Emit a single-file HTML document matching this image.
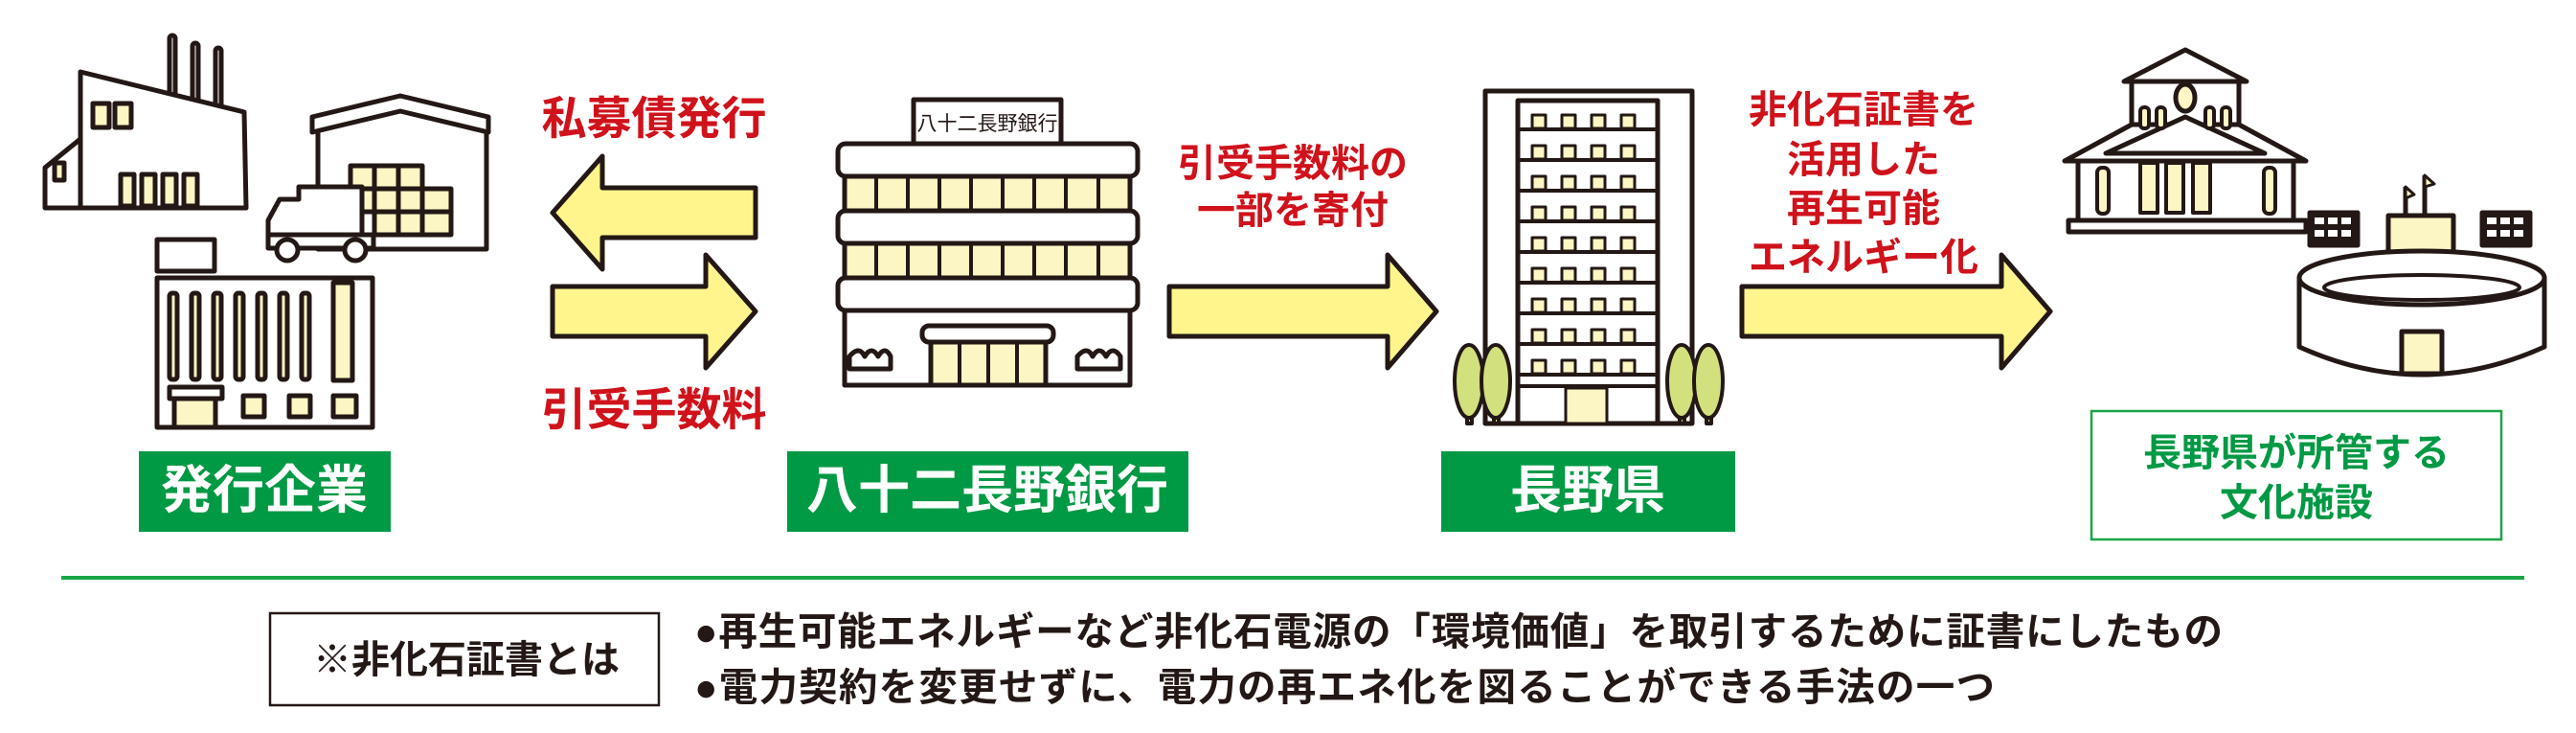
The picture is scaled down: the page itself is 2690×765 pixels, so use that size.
<!DOCTYPE html>
<html><head><meta charset="utf-8"><style>
html,body{margin:0;padding:0;background:#fff}
svg{display:block}
text{font-family:"Liberation Sans","Noto Sans CJK JP",sans-serif;font-weight:bold}
</style></head><body>
<svg width="2690" height="765" viewBox="0 0 2690 765" xmlns="http://www.w3.org/2000/svg">
<g stroke="#231815" stroke-width="5" stroke-linejoin="round" fill="#fff">
<!-- factory -->
<rect x="177" y="37" width="6" height="70" rx="3"/>
<rect x="201" y="45" width="6" height="65" rx="3"/>
<rect x="225" y="50" width="6" height="65" rx="3"/>
<path d="M84 75 L255 117 L257 217 L84 217 Z"/>
<path d="M84 145 L47 175 L47 217 L84 217 Z"/>
<rect x="57" y="170" width="10" height="18" fill="#fbf6c4"/>
<rect x="97" y="108" width="17" height="25" fill="#fbf6c4"/><rect x="120" y="108" width="17" height="25" fill="#fbf6c4"/>
<rect x="126" y="182" width="14" height="33" fill="#fbf6c4"/><rect x="148" y="182" width="14" height="33" fill="#fbf6c4"/><rect x="170" y="182" width="14" height="33" fill="#fbf6c4"/><rect x="192" y="182" width="14" height="33" fill="#fbf6c4"/>
<!-- warehouse -->
<path d="M332 130 L418 104 L508 130 L508 260 L332 260 Z"/>
<path d="M326 122 L418 100 L510 122 L510 138 L418 116 L326 138 Z"/>
<g fill="#fbf6c4"><rect x="366" y="173" width="25" height="24"/><rect x="391" y="173" width="25" height="24"/><rect x="416" y="173" width="25" height="24"/>
<rect x="366" y="197" width="25" height="24"/><rect x="391" y="197" width="25" height="24"/><rect x="416" y="197" width="25" height="24"/><rect x="441" y="197" width="30" height="24"/>
<rect x="391" y="221" width="25" height="24"/><rect x="416" y="221" width="25" height="24"/><rect x="441" y="221" width="30" height="24"/></g>
<!-- truck -->
<path d="M312 195 L378 195 L378 258 L280 258 L280 230 L292 208 L312 208 Z"/>
<rect x="280" y="245" width="110" height="14"/>
<circle cx="300" cy="261" r="11"/><circle cx="371" cy="261" r="11"/>
<!-- office -->
<rect x="164" y="250" width="60" height="33"/>
<rect x="164" y="290" width="225" height="156"/>
<g fill="#fbf6c4">
<rect x="177" y="306" width="8" height="90" rx="3"/><rect x="200" y="306" width="8" height="90" rx="3"/><rect x="223" y="306" width="8" height="90" rx="3"/><rect x="246" y="306" width="8" height="90" rx="3"/><rect x="269" y="306" width="8" height="90" rx="3"/><rect x="292" y="306" width="8" height="90" rx="3"/><rect x="315" y="306" width="8" height="90" rx="3"/>
<rect x="348" y="295" width="20" height="102"/>
<rect x="182" y="413" width="43" height="33"/><rect x="254" y="413" width="22" height="22"/><rect x="302" y="413" width="22" height="22"/><rect x="348" y="413" width="24" height="22"/></g>
<rect x="177" y="404" width="55" height="12"/>
<!-- bank -->
<rect x="954" y="104" width="154" height="46"/>
<rect x="882" y="318" width="298" height="84"/>
<rect x="882" y="183" width="298" height="40" fill="#fbf6c4"/>
<rect x="882" y="253" width="298" height="40" fill="#fbf6c4"/>
<g stroke-width="4"><line x1="915" y1="183" x2="915" y2="223"/><line x1="948" y1="183" x2="948" y2="223"/><line x1="981" y1="183" x2="981" y2="223"/><line x1="1014" y1="183" x2="1014" y2="223"/><line x1="1047" y1="183" x2="1047" y2="223"/><line x1="1080" y1="183" x2="1080" y2="223"/><line x1="1113" y1="183" x2="1113" y2="223"/><line x1="1147" y1="183" x2="1147" y2="223"/>
<line x1="915" y1="253" x2="915" y2="293"/><line x1="948" y1="253" x2="948" y2="293"/><line x1="981" y1="253" x2="981" y2="293"/><line x1="1014" y1="253" x2="1014" y2="293"/><line x1="1047" y1="253" x2="1047" y2="293"/><line x1="1080" y1="253" x2="1080" y2="293"/><line x1="1113" y1="253" x2="1113" y2="293"/><line x1="1147" y1="253" x2="1147" y2="293"/></g>
<rect x="875" y="150" width="313" height="34" rx="8"/>
<rect x="875" y="220" width="313" height="34" rx="8"/>
<rect x="875" y="290" width="313" height="34" rx="8"/>
<rect x="972" y="354" width="120" height="48" fill="#fbf6c4"/>
<g stroke-width="4"><line x1="1002" y1="354" x2="1002" y2="402"/><line x1="1032" y1="354" x2="1032" y2="402"/><line x1="1062" y1="354" x2="1062" y2="402"/></g>
<rect x="963" y="340" width="137" height="17" rx="7"/>
<path d="M887 385 L887 372 Q897 360 903 372 Q910 360 917 372 Q924 360 930 372 L930 385 Z"/>
<path d="M1125 385 L1125 372 Q1135 360 1141 372 Q1148 360 1155 372 Q1162 360 1170 372 L1170 385 Z"/>
<!-- prefecture building -->
<rect x="1551" y="95" width="216" height="347"/>
<rect x="1585" y="105" width="146" height="337"/>
<g stroke-width="4">
<line x1="1585" y1="135" x2="1731" y2="135"/><line x1="1585" y1="167" x2="1731" y2="167"/><line x1="1585" y1="199" x2="1731" y2="199"/><line x1="1585" y1="231" x2="1731" y2="231"/><line x1="1585" y1="263" x2="1731" y2="263"/><line x1="1585" y1="295" x2="1731" y2="295"/><line x1="1585" y1="327" x2="1731" y2="327"/><line x1="1585" y1="359" x2="1731" y2="359"/><line x1="1585" y1="391" x2="1731" y2="391"/><line x1="1585" y1="403" x2="1731" y2="403"/></g>
<g fill="#fbf6c4" stroke-width="3">
<g id="wr"><rect x="1600" y="120" width="14" height="14"/><rect x="1631" y="120" width="14" height="14"/><rect x="1662" y="120" width="14" height="14"/><rect x="1693" y="120" width="14" height="14"/></g>
<use href="#wr" y="32"/><use href="#wr" y="64"/><use href="#wr" y="96"/><use href="#wr" y="128"/><use href="#wr" y="160"/><use href="#wr" y="192"/><use href="#wr" y="224"/><use href="#wr" y="256"/>
<rect x="1635" y="405" width="43" height="37"/></g>
<g fill="#d2e07d" stroke-width="4">
<rect x="1532" y="395" width="5" height="47"/><rect x="1560" y="395" width="5" height="47"/><rect x="1754" y="395" width="5" height="47"/><rect x="1782" y="395" width="5" height="47"/>
<ellipse cx="1534" cy="398" rx="15" ry="38"/><ellipse cx="1562" cy="398" rx="15" ry="38"/><ellipse cx="1756" cy="398" rx="15" ry="38"/><ellipse cx="1784" cy="398" rx="15" ry="38"/></g>
<!-- museum -->
<path d="M2218 85 L2282 52 L2346 85 Z"/>
<rect x="2226" y="85" width="112" height="50"/>
<ellipse cx="2282" cy="102" rx="10" ry="14" fill="#fbf6c4"/>
<path d="M2156 168 L2226 130 L2338 130 L2408 168 Z"/>
<rect x="2170" y="168" width="225" height="62"/>
<path d="M2199 160 L2282 122 L2365 160 Z"/>
<rect x="2160" y="230" width="248" height="12"/>
<g fill="#fbf6c4" stroke-width="4"><rect x="2190" y="175" width="12" height="48" rx="5"/><rect x="2235" y="170" width="18" height="52"/><rect x="2262" y="170" width="18" height="52"/><rect x="2290" y="170" width="18" height="52"/><rect x="2364" y="175" width="12" height="48" rx="5"/>
<rect x="2235" y="112" width="9" height="22" rx="4"/><rect x="2252" y="112" width="9" height="22" rx="4"/><rect x="2303" y="112" width="9" height="22" rx="4"/><rect x="2320" y="112" width="9" height="22" rx="4"/></g>
<!-- stadium -->
<rect x="2494" y="225" width="68" height="40" fill="#fbf6c4"/>
<path d="M2401 290 L2401 362 Q2529 420 2657 362 L2657 290 Z"/>
<ellipse cx="2529" cy="290" rx="128" ry="28"/>
<ellipse cx="2529" cy="300" rx="102" ry="13" stroke-width="4"/>
<rect x="2412" y="222" width="50" height="34" fill="#231815"/><rect x="2592" y="222" width="50" height="34" fill="#231815"/>
<line x1="2512" y1="225" x2="2512" y2="195"/><line x1="2532" y1="225" x2="2532" y2="183"/>
<path d="M2512 195 L2521 203 L2512 207 Z" fill="#fbf6c4" stroke-width="3"/><path d="M2532 183 L2542 192 L2532 195 Z" fill="#fbf6c4" stroke-width="3"/>
<rect x="2508" y="346" width="42" height="44" fill="#fbf6c4"/>
<!-- arrows -->
<path d="M789 196 L629 196 L629 163 L577 222 L629 281 L629 248 L789 248 Z" fill="#fff58c"/>
<path d="M577 299 L737 299 L737 266 L789 325 L737 384 L737 351 L577 351 Z" fill="#fff58c"/>
<path d="M1221 299 L1449 299 L1449 266 L1500 325 L1449 384 L1449 351 L1221 351 Z" fill="#fff58c"/>
<path d="M1819 299 L2090 299 L2090 266 L2141 325 L2090 384 L2090 351 L1819 351 Z" fill="#fff58c"/>
</g>
<g fill="#fff">
<rect x="2417" y="227" width="10" height="7"/><rect x="2431" y="227" width="10" height="7"/><rect x="2445" y="227" width="10" height="7"/><rect x="2417" y="240" width="10" height="7"/><rect x="2431" y="240" width="10" height="7"/><rect x="2445" y="240" width="10" height="7"/>
<rect x="2597" y="227" width="10" height="7"/><rect x="2611" y="227" width="10" height="7"/><rect x="2625" y="227" width="10" height="7"/><rect x="2597" y="240" width="10" height="7"/><rect x="2611" y="240" width="10" height="7"/><rect x="2625" y="240" width="10" height="7"/>
</g>
<text x="1031" y="136" font-size="21" fill="#231815" text-anchor="middle" style="font-weight:normal">八十二長野銀行</text>
<!-- red labels -->
<g fill="#d0121b" text-anchor="middle">
<text x="683" y="140" font-size="47">私募債発行</text>
<text x="683" y="444" font-size="47">引受手数料</text>
<text x="1350" y="184" font-size="40">引受手数料の</text>
<text x="1350" y="233" font-size="40">一部を寄付</text>
<text x="1946" y="128" font-size="40">非化石証書を</text>
<text x="1946" y="180" font-size="40">活用した</text>
<text x="1946" y="231" font-size="40">再生可能</text>
<text x="1946" y="282" font-size="40">エネルギー化</text>
</g>
<!-- green boxes -->
<rect x="145" y="471" width="263" height="84" fill="#009944"/>
<rect x="822" y="471" width="419" height="84" fill="#009944"/>
<rect x="1505" y="471" width="307" height="84" fill="#009944"/>
<g fill="#fff" text-anchor="middle">
<text x="276" y="530" font-size="54">発行企業</text>
<text x="1031" y="530" font-size="54">八十二長野銀行</text>
<text x="1658" y="530" font-size="54">長野県</text>
</g>
<rect x="2184" y="429" width="428" height="134" fill="none" stroke="#1aa547" stroke-width="2.5"/>
<g fill="#009944" text-anchor="middle">
<text x="2398" y="486" font-size="40">長野県が所管する</text>
<text x="2398" y="538" font-size="40">文化施設</text>
</g>
<line x1="64" y1="603" x2="2636" y2="603" stroke="#1aa547" stroke-width="4"/>
<rect x="282" y="640" width="406" height="96" fill="none" stroke="#231815" stroke-width="2.5"/>
<g fill="#231815" style="font-weight:normal">
<text x="487" y="702" font-size="40" text-anchor="middle">※非化石証書とは</text>
<text x="725" y="673" font-size="40.5" textLength="1596">●再生可能エネルギーなど非化石電源の「環境価値」を取引するために証書にしたもの</text>
<text x="725" y="731" font-size="40.5" textLength="1358">●電力契約を変更せずに、電力の再エネ化を図ることができる手法の一つ</text>
</g>
</svg>
</body></html>
